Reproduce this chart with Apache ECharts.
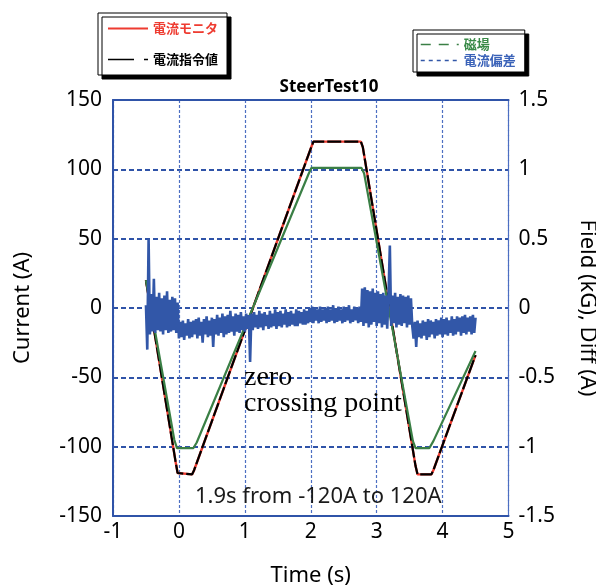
<!DOCTYPE html>
<html><head><meta charset="utf-8">
<script src="https://cdn.jsdelivr.net/npm/echarts@6/dist/echarts.min.js"></script>
<style>html,body{margin:0;padding:0;background:#fff}#c{width:596px;height:586px}</style>
</head><body><div id="c"></div>
<script>
// ---- axis ranges / ticks ----
const chartTitle = 'SteerTest10';
const timeRange = [-1, 5], timeStep = 1;
const currentRange = [-150, 150], currentStep = 50;
const fieldRange = [-1.5, 1.5], fieldStep = 0.5;

// ---- 電流指令値 (command current, A) ----
const cmdT = [-0.50, -0.05, -0.02, 0.20, 0.23, 2.00, 2.04, 2.76, 2.79, 3.59, 3.62, 3.83, 3.86, 4.50];
const cmdI = [20, -111, -119, -120, -117, 115, 120, 120, 116, -114, -120, -120, -117, -34];

// ---- 電流モニタ (monitored current, A) ----
const monT = [-0.50, -0.05, -0.02, 0.20, 0.23, 2.00, 2.04, 2.76, 2.79, 3.59, 3.62, 3.83, 3.86, 4.50];
const monI = [20, -111, -119, -120, -117, 115, 120, 120, 116, -114, -120, -120, -117, -34];

// ---- 磁場 (field, kG) ----
const fieldT = [-0.50, -0.07, -0.03, 0.22, 0.27, 1.97, 2.01, 2.77, 2.81, 3.55, 3.59, 3.80, 3.86, 4.50];
const fieldB = [0.20, -0.95, -1.01, -1.01, -0.97, 0.97, 1.01, 1.01, 0.97, -0.96, -1.01, -1.01, -0.96, -0.31];

// ---- 電流偏差 (current difference, A), sampled every diffDt from diffT0 ----
const diffT0 = -0.50, diffDt = 0.02;
const diffA = [
  0.02, -0.30, 0.50, -0.19, 0.10,
  -0.17, 0.21, -0.18, 0.08, -0.16,
  0.11, -0.17, 0.07, -0.19, 0.09,
  -0.16, 0.12, -0.18, 0.06, -0.17,
  0.08, -0.16, 0.07, -0.18, 0.04,
  -0.22, -0.10, -0.21, -0.09, -0.23,
  -0.11, -0.20, -0.08, -0.22, -0.10,
  -0.21, -0.09, -0.19, -0.08, -0.22,
  -0.07, -0.20, -0.10, -0.25, -0.08,
  -0.19, -0.06, -0.21, -0.09, -0.20,
  -0.07, -0.28, -0.08, -0.19, -0.05,
  -0.20, -0.07, -0.18, -0.04, -0.21,
  -0.06, -0.19, -0.05, -0.18, -0.02,
  -0.17, -0.06, -0.20, -0.04, -0.17,
  -0.05, -0.18, -0.03, -0.16, -0.06,
  -0.17, -0.04, -0.15, -0.05, -0.39,
  -0.04, -0.16, -0.03, -0.14, -0.05,
  -0.15, -0.02, -0.14, -0.04, -0.16,
  -0.03, -0.13, -0.05, -0.15, -0.02,
  -0.14, -0.04, -0.13, -0.01, -0.15,
  -0.03, -0.13, -0.02, -0.14, -0.04,
  -0.12, -0.01, -0.14, -0.03, -0.13,
  -0.02, -0.12, -0.04, -0.13, -0.01,
  -0.13, -0.02, -0.11, -0.03, -0.12,
  -0.01, -0.12, -0.02, -0.11, 0.00,
  -0.10, 0.01, -0.11, 0.00, -0.09,
  -0.01, -0.11, 0.01, -0.10, -0.01,
  -0.09, 0.00, -0.11, 0.01, -0.10,
  -0.01, -0.09, 0.02, -0.11, 0.00,
  -0.10, 0.01, -0.09, -0.01, -0.11,
  0.01, -0.10, 0.00, -0.09, 0.02,
  -0.11, -0.01, -0.10, 0.01, -0.09,
  0.00, -0.11, 0.01, -0.10, 0.14,
  -0.13, 0.15, -0.11, 0.13, -0.14,
  0.12, -0.12, 0.14, -0.10, 0.11,
  -0.13, 0.12, -0.11, 0.10, -0.14,
  0.11, -0.12, 0.09, -0.15, 0.10,
  0.45, -0.13, 0.09, -0.11, 0.11,
  -0.14, 0.08, -0.12, 0.10, -0.13,
  0.09, -0.11, 0.08, -0.14, 0.09,
  -0.12, 0.07, -0.13, -0.22, -0.10,
  -0.28, -0.09, -0.21, -0.11, -0.22,
  -0.09, -0.20, -0.10, -0.23, -0.08,
  -0.21, -0.09, -0.19, -0.10, -0.22,
  -0.08, -0.20, -0.09, -0.19, -0.07,
  -0.21, -0.08, -0.19, -0.07, -0.20,
  -0.09, -0.18, -0.06, -0.20, -0.08,
  -0.19, -0.06, -0.17, -0.07, -0.20,
  -0.06, -0.18, -0.05, -0.19, -0.07,
  -0.17, -0.06, -0.19, -0.05, -0.18,
  -0.07
];

// ---- build ----
const pairs = (t, v) => t.map((x, i) => [x, v[i]]);
const diffData = diffA.map((v, i) => [+(diffT0 + i * diffDt).toFixed(2), v]);

const BLUE = '#2f53a8';
const GRIDBLUE = '#4d6fc2';
const FONT = '"Noto Sans", sans-serif';
const CJK = '"Noto Sans CJK JP", sans-serif';

const chart = echarts.init(document.getElementById('c'), null, {renderer: 'canvas'});
const legendBox = {
  backgroundColor: '#fff', borderColor: '#000', borderWidth: 1,
  shadowColor: '#000', shadowBlur: 0, shadowOffsetX: 4, shadowOffsetY: 4,
  orient: 'vertical', selectedMode: false, itemHeight: 12,
  itemStyle: {opacity: 0}
};
chart.setOption({
  animation: false,
  backgroundColor: '#fff',
  title: {
    text: chartTitle, left: 324, top: 74, textAlign: 'center',
    textStyle: {fontFamily: FONT, fontSize: 17, fontWeight: 'bold', color: '#000'}
  },
  grid: {left: 113, right: 87.5, top: 100, bottom: 70, containLabel: false, outerBoundsMode: 'none'},
  legend: [
    Object.assign({}, legendBox, {
      left: 98, top: 13, padding: [9, 9, 9, 9], itemWidth: 40, itemGap: 18,
      textStyle: {fontFamily: CJK, fontSize: 13, fontWeight: 'bold'},
      data: [
        {name: '電流モニタ', textStyle: {color: '#ee3b30'}},
        {name: '電流指令値', textStyle: {color: '#000'}, lineStyle: {type: [26, 10, 4, 40], width: 1.5}}
      ]
    }),
    Object.assign({}, legendBox, {
      left: 413, top: 30, padding: [8, 9, 5, 7], itemWidth: 38, itemGap: 3,
      textStyle: {fontFamily: CJK, fontSize: 13, fontWeight: 'bold'},
      data: [
        {name: '磁場', textStyle: {color: '#3a8a48'}, lineStyle: {type: [10, 8], width: 1.5}},
        {name: '電流偏差', textStyle: {color: '#3a62b8'}, lineStyle: {type: [4, 4], width: 1.5}}
      ]
    })
  ],
  xAxis: [{
    type: 'value', min: timeRange[0], max: timeRange[1], interval: timeStep,
    name: 'Time (s)', nameLocation: 'middle', nameGap: 49,
    nameTextStyle: {fontFamily: FONT, fontSize: 22, color: '#000'},
    axisLine: {show: true, onZero: false, lineStyle: {color: BLUE, width: 2}},
    axisTick: {show: false},
    axisLabel: {fontFamily: FONT, fontSize: 21, color: '#000', margin: 6},
    splitLine: {show: true, lineStyle: {color: GRIDBLUE, width: 1.2, type: [3, 2]}}
  }, {
    type: 'value', position: 'top', min: timeRange[0], max: timeRange[1], interval: timeStep,
    axisLine: {show: true, onZero: false, lineStyle: {color: BLUE, width: 2}},
    axisTick: {show: false}, axisLabel: {show: false}, splitLine: {show: false}
  }],
  yAxis: [{
    type: 'value', min: currentRange[0], max: currentRange[1], interval: currentStep,
    name: 'Current (A)', nameLocation: 'middle', nameGap: 79,
    nameTextStyle: {fontFamily: FONT, fontSize: 22, color: '#000'},
    axisLine: {show: true, onZero: false, lineStyle: {color: BLUE, width: 2}},
    axisTick: {show: false},
    axisLabel: {fontFamily: FONT, fontSize: 21, color: '#000', margin: 11},
    splitLine: {show: true, lineStyle: {color: BLUE, width: 2, type: [5, 3]}}
  }, {
    type: 'value', position: 'right', min: fieldRange[0], max: fieldRange[1], interval: fieldStep,
    name: 'Field (kG), Diff (A)', nameLocation: 'middle', nameGap: 68, nameRotate: -90,
    nameTextStyle: {fontFamily: FONT, fontSize: 22, color: '#000'},
    axisLine: {show: true, onZero: false, lineStyle: {color: GRIDBLUE, width: 1.2, type: [3, 2]}},
    axisTick: {show: false},
    axisLabel: {fontFamily: FONT, fontSize: 21, color: '#000', margin: 10},
    splitLine: {show: false}
  }],
  graphic: [
    {type: 'text', left: 244, top: 364, z: 100,
     style: {text: 'zero\ncrossing point', fontFamily: '"Liberation Serif", serif', fontSize: 28, lineHeight: 26, fill: '#000'}},
    {type: 'text', left: 195, top: 486, z: 100,
     style: {text: '1.9s from -120A to 120A', fontFamily: FONT, fontSize: 22, fill: '#1a1a1a'}}
  ],
  series: [
    {name: '電流モニタ', type: 'line', yAxisIndex: 0, symbol: 'none', data: pairs(monT, monI),
     lineStyle: {color: '#ee3b30', width: 2.4}, itemStyle: {color: '#ee3b30'}, z: 2},
    {name: '電流指令値', type: 'line', yAxisIndex: 0, symbol: 'none', data: pairs(cmdT, cmdI),
     lineStyle: {color: '#000', width: 2.2, type: [14, 3]}, itemStyle: {color: '#000'}, z: 3},
    {name: '磁場', type: 'line', yAxisIndex: 1, symbol: 'none', data: pairs(fieldT, fieldB),
     lineStyle: {color: '#3a7f45', width: 2.2}, itemStyle: {color: '#3a8a48'}, z: 4},
    {name: '電流偏差', type: 'line', yAxisIndex: 1, symbol: 'none', data: diffData,
     lineStyle: {color: '#3257a8', width: 2.6}, itemStyle: {color: '#3a62b8'}, z: 5}
  ]
});
</script>
</body></html>
